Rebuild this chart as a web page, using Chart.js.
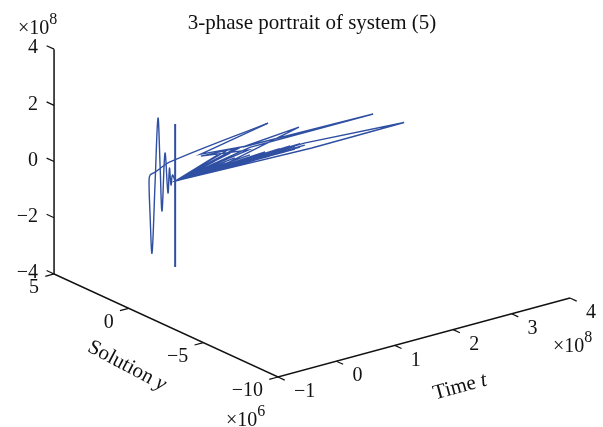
<!DOCTYPE html>
<html>
<head>
<meta charset="utf-8">
<title>3-phase portrait</title>
<script src="https://cdn.jsdelivr.net/npm/chart.js@4"></script>
<style>
  body { margin: 0; background: #fff; }
  canvas { display: block; }
</style>
</head>
<body>
<canvas id="portrait" width="603" height="427"></canvas>
<script>
// Tick labels (t and z in 1e8, y in 1e6)
const tTicks = [-1, 0, 1, 2, 3, 4];
const yTicks = [5, 0, -5, -10];
const zTicks = [-4, -2, 0, 2, 4];

// Smooth part: left arm coming down into the decaying oscillation
const curveT = [1.59, 0.116, 0.04, 0, 0, 0, 0, 0, 0, 0, 0, 0, 0, 0, 0, 0, 0, 0];
const curveY = [0.8, 1.6, 2.3, 2.48, 2.55, 2.48, 2.35, 2.15, 1.95, 1.81, 1.68, 1.48, 1.28, 1.18, 1.08, 0.98, 0.8, 0.8];
const curveZ = [0.94, 0.19, -0.3, -0.43, -0.65, -1.85, -3.17, -0.7, 1.73, 0.09, -1.51, 0.6, -0.77, 0.14, -0.44, -0.06, -0.23, -0.23];

// Spiky part: sharp excursions along t, y stays near hubY
const hubY = 0.8;
const spikeT = [1.59, 0.44, 1.23, 0.44, 1.25, 0, 0.89, 2.12, 1.16, 3.39, 1.28, 0,
  2.21, 3.92, 2.34, 0,
  1.11, 0, 1.02, 0, 0.94, 0, 0.9, 0, 0.8, 0, 0.73, 0, 0.68, 0, 0.6, 0, 0.51, 0, 0.42, 0, 0.34, 0,
  1.02, 0, 0.85, 0, 0.68, 0,
  2.14, 0, 2.05, 0, 1.88, 0, 1.76, 0, 1.62, 0, 1.49, 0, 1.37, 0, 1.25, 0, 1.11, 0, 0.97, 0, 0.85, 0, 0.73, 0, 0.6, 0,
  2.22, 0, 2.14, 0, 2.05, 0, 1.97, 0, 1.79, 0, 1.71, 0, 1.54, 0, 1.42, 0, 1.28, 0];
const spikeZ = [0.94, 0.48, 0.33, 0.41, 0.17, -0.23, -0.09, 0.5, 0.33, 0.25, 0.25, -0.23,
  -0.12, -0.35, -0.37, -0.23,
  0.34, -0.23, 0.34, -0.23, 0.24, -0.23, 0.37, -0.23, 0.18, -0.23, 0.29, -0.23, 0.1, -0.23, 0.18, -0.23, 0.02, -0.23, 0.07, -0.23, -0.1, -0.23,
  0.02, -0.23, -0.03, -0.23, -0.11, -0.23,
  -0.22, -0.23, -0.24, -0.23, -0.25, -0.23, -0.22, -0.23, -0.25, -0.23, -0.21, -0.23, -0.25, -0.23, -0.22, -0.23, -0.21, -0.23, -0.2, -0.23, -0.24, -0.23, -0.21, -0.23, -0.25, -0.23,
  -0.2, -0.23, -0.1, -0.23, -0.15, -0.23, -0.09, -0.23, -0.08, -0.23, -0.12, -0.23, -0.06, -0.23, -0.12, -0.23, -0.02, -0.23];

// Tall vertical stroke through the hub
const stemZ = [1.8, -3.29];

// 3D view: maps (t, y, z) to the flat x/y scales
function project(t, y, z) {
  return {
    x: 278 + 58.4 * (t + 1) - 14.93 * (y + 10),
    y: 377 - 15.8 * (t + 1) - 6.87 * (y + 10) - 28.1 * (z + 4),
  };
}

const lineColor = "#2f4fa3";
const axisColor = "#111";
const serif = '"Liberation Serif", serif';

function axisPoints() {
  return [project(-1, 5, 4), project(-1, 5, -4), project(-1, -10, -4), project(4, -10, -4)];
}

function tickPoints() {
  const pts = [];
  zTicks.forEach((z) => {
    pts.push(project(-1, 5, z), project(-1, 5.5, z), { x: null, y: null });
  });
  yTicks.forEach((y) => {
    pts.push(project(-1, y, -4), project(-1.15, y, -4), { x: null, y: null });
  });
  tTicks.forEach((t) => {
    pts.push(project(t, -10, -4), project(t, -10.45, -4), { x: null, y: null });
  });
  return pts;
}

const curvePoints = curveT.map((t, i) => project(t, curveY[i], curveZ[i]));
const spikePoints = spikeT.map((t, i) => project(t, hubY, spikeZ[i]));
const stemPoints = stemZ.map((z) => project(0, hubY, z));

function drawPower(ctx, x, y, base, power, size) {
  ctx.textAlign = "left";
  ctx.font = size + "px " + serif;
  ctx.fillText(base, x, y);
  const w = ctx.measureText(base).width;
  ctx.font = Math.round(size * 0.78) + "px " + serif;
  ctx.fillText(power, x + w, y - 9);
}

// Rotated label with the last word in italics
function drawAxisName(ctx, x, y, angle, plain, slanted) {
  ctx.save();
  ctx.translate(x, y);
  ctx.rotate(angle * Math.PI / 180);
  ctx.textAlign = "left";
  ctx.font = "21px " + serif;
  const w1 = ctx.measureText(plain).width;
  ctx.font = "italic 21px " + serif;
  const w2 = ctx.measureText(slanted).width;
  ctx.font = "21px " + serif;
  ctx.fillText(plain, -(w1 + w2) / 2, 0);
  ctx.font = "italic 21px " + serif;
  ctx.fillText(slanted, -(w1 + w2) / 2 + w1, 0);
  ctx.restore();
}

// Axis text, placed from the chart's own scales
const axisText = {
  id: "axisText",
  afterDraw(chart) {
    const { ctx, scales } = chart;
    const px = (p) => scales.x.getPixelForValue(p.x);
    const py = (p) => scales.y.getPixelForValue(p.y);
    ctx.save();
    ctx.fillStyle = axisColor;
    ctx.textBaseline = "middle";

    ctx.font = "20px " + serif;
    ctx.textAlign = "right";
    zTicks.forEach((z) => {
      const p = project(-1, 5, z);
      ctx.fillText(String(z).replace("-", "\u2212"), px(p) - 16, py(p) - 1);
    });
    yTicks.forEach((y) => {
      const p = project(-1, y, -4);
      ctx.fillText(String(y).replace("-", "\u2212"), px(p) - 15, py(p) + 14);
    });
    ctx.textAlign = "left";
    tTicks.forEach((t) => {
      const p = project(t, -10, -4);
      ctx.fillText(String(t).replace("-", "\u2212"), px(p) + 16, py(p) + 15);
    });

    ctx.textAlign = "center";
    ctx.font = "21px " + serif;
    ctx.fillText("3-phase portrait of system (5)", 312, 23);

    drawPower(ctx, 18, 29, "\u00d710", "8", 20);
    drawPower(ctx, 226, 421, "\u00d710", "6", 20);
    drawPower(ctx, 553, 347, "\u00d710", "8", 20);

    drawAxisName(ctx, 127, 366, 28, "Solution ", "y");
    drawAxisName(ctx, 460, 387, -15, "Time ", "t");

    ctx.restore();
  },
};

new Chart(document.getElementById("portrait"), {
  type: "scatter",
  data: {
    datasets: [
      { data: axisPoints(), showLine: true, borderColor: axisColor, borderWidth: 1.5, pointRadius: 0, tension: 0 },
      { data: tickPoints(), showLine: true, borderColor: axisColor, borderWidth: 1.2, pointRadius: 0, spanGaps: false },
      { data: curvePoints, showLine: true, borderColor: lineColor, borderWidth: 1.4, pointRadius: 0, tension: 0.35 },
      { data: spikePoints, showLine: true, borderColor: lineColor, borderWidth: 1.4, pointRadius: 0, tension: 0 },
      { data: stemPoints, showLine: true, borderColor: lineColor, borderWidth: 2, pointRadius: 0 },
    ],
  },
  options: {
    responsive: false,
    animation: false,
    layout: { padding: 0 },
    plugins: { legend: { display: false }, tooltip: { enabled: false } },
    scales: {
      x: { type: "linear", display: false, min: 0, max: 603 },
      y: { type: "linear", display: false, min: 0, max: 427, reverse: true },
    },
  },
  plugins: [axisText],
});
</script>
</body>
</html>
